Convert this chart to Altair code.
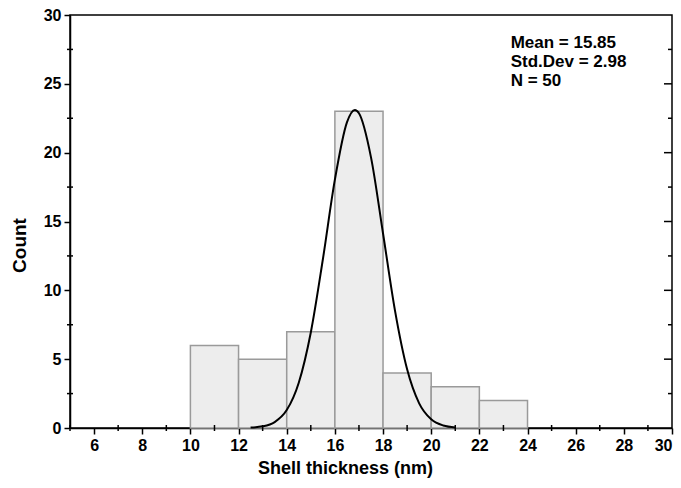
import altair as alt
import pandas as pd

# Histogram bins (nm) and counts
bin_start = [10, 12, 14, 16, 18, 20, 22]
bin_end = [12, 14, 16, 18, 20, 22, 24]
counts = [6, 5, 7, 23, 4, 3, 2]

# Normal-curve points
curve_x = [12.5, 13.0, 13.5, 14.0, 14.5, 15.0, 15.5, 16.0, 16.5, 16.83,
           17.0, 17.5, 18.0, 18.5, 19.0, 19.5, 20.0, 20.5, 21.0]
curve_y = [0.03, 0.12, 0.43, 1.30, 3.29, 6.94, 12.24, 18.04, 22.2, 23.1,
           22.86, 19.66, 14.13, 8.49, 4.26, 1.79, 0.63, 0.18, 0.04]

# Annotation
note_text = ["Mean = 15.85", "Std.Dev = 2.98", "N = 50"]
note_x = [23.3, 23.3, 23.3]
note_y = [28.0, 26.6, 25.2]

x_major = list(range(6, 31, 2))
x_minor = list(range(5, 30, 2))
y_major = [0, 5, 10, 15, 20, 25, 30]
y_minor = [2.5, 7.5, 12.5, 17.5, 22.5, 27.5]
y_right_major = [5, 10, 15, 20, 25]

bars = pd.DataFrame({"x0": bin_start, "x1": bin_end, "count": counts})
curve = pd.DataFrame({"x": curve_x, "y": curve_y})
notes = pd.DataFrame({"t": note_text, "x": note_x, "y": note_y})
xminor_df = pd.DataFrame({"v": x_minor})
yminor_df = pd.DataFrame({"v": y_minor})
yright_df = pd.DataFrame({"v": y_right_major})

FONT = "Liberation Sans"
xscale = alt.Scale(domain=[5, 30], nice=False, zero=False)
yscale = alt.Scale(domain=[0, 30], nice=False)

x_axis = alt.Axis(values=x_major, title="Shell thickness (nm)", orient="bottom",
                  labelFontSize=16, labelFont=FONT, labelFontWeight="bold",
                  labelColor="black", labelPadding=3, tickSize=6, tickWidth=1.5,
                  tickColor="black", domainColor="black", domainWidth=1.5,
                  titleFont=FONT, titleFontSize=18, titleFontWeight="bold",
                  titleColor="black", titleX=275, titleY=45,
                  titleBaseline="alphabetic", titleAnchor="middle", grid=False)
y_axis = alt.Axis(values=y_major, title="Count", orient="left",
                  labelFontSize=16, labelFont=FONT, labelFontWeight="bold",
                  labelColor="black", labelPadding=3, tickSize=6, tickWidth=1.5,
                  tickColor="black", domainColor="black", domainWidth=1.5,
                  titleFont=FONT, titleFontSize=19, titleFontWeight="bold",
                  titleColor="black", titleX=-45, titleY=230, titleAngle=-90,
                  titleBaseline="alphabetic", titleAlign="center", grid=False)


def X(field):
    return alt.X(field, scale=xscale, axis=x_axis)


def Y(field):
    return alt.Y(field, scale=yscale, axis=y_axis)


hist = alt.Chart(bars).mark_rect(fill="#ededed", stroke="#9a9a9a", strokeWidth=1.5).encode(
    x=X("x0:Q"),
    x2="x1:Q",
    y=Y("count:Q"),
    y2=alt.datum(0),
)

line = alt.Chart(curve).mark_line(color="black", strokeWidth=2, interpolate="monotone").encode(
    x=X("x:Q"),
    y=Y("y:Q"),
)

text = alt.Chart(notes).mark_text(align="left", baseline="middle", font=FONT,
                                  fontSize=17, fontWeight="bold", color="black").encode(
    x=X("x:Q"),
    y=Y("y:Q"),
    text="t:N",
)

# minor ticks on bottom axis
xminor = alt.Chart(xminor_df).mark_tick(orient="vertical", size=6, thickness=1.5,
                                        color="black", opacity=1).encode(
    x=X("v:Q"),
    y=alt.YDatum(0, scale=yscale, axis=y_axis),
)
# minor ticks on left axis
yminor = alt.Chart(yminor_df).mark_tick(orient="horizontal", size=6, thickness=1.5,
                                        color="black", opacity=1).encode(
    y=Y("v:Q"),
    x=alt.XDatum(5, scale=xscale, axis=x_axis),
)
# inward ticks on right frame
yright = alt.Chart(yright_df).mark_tick(orient="horizontal", size=8, thickness=1.5,
                                        color="black", opacity=1, xOffset=-4).encode(
    y=Y("v:Q"),
    x=alt.XDatum(30, scale=xscale, axis=x_axis),
)
yright_minor = alt.Chart(yminor_df).mark_tick(orient="horizontal", size=4, thickness=1.5,
                                              color="black", opacity=1, xOffset=-2).encode(
    y=Y("v:Q"),
    x=alt.XDatum(30, scale=xscale, axis=x_axis),
)

chart = alt.layer(hist, line, text, xminor, yminor, yright, yright_minor).properties(
    width=602, height=413,
    autosize=alt.AutoSizeParams(type="none"),
    padding={"left": 70, "top": 15, "right": 9, "bottom": 60},
    background="white",
).configure_view(stroke="black", strokeWidth=1.5)

chart.save("out.html", embed_options={"renderer": "svg", "actions": False})
